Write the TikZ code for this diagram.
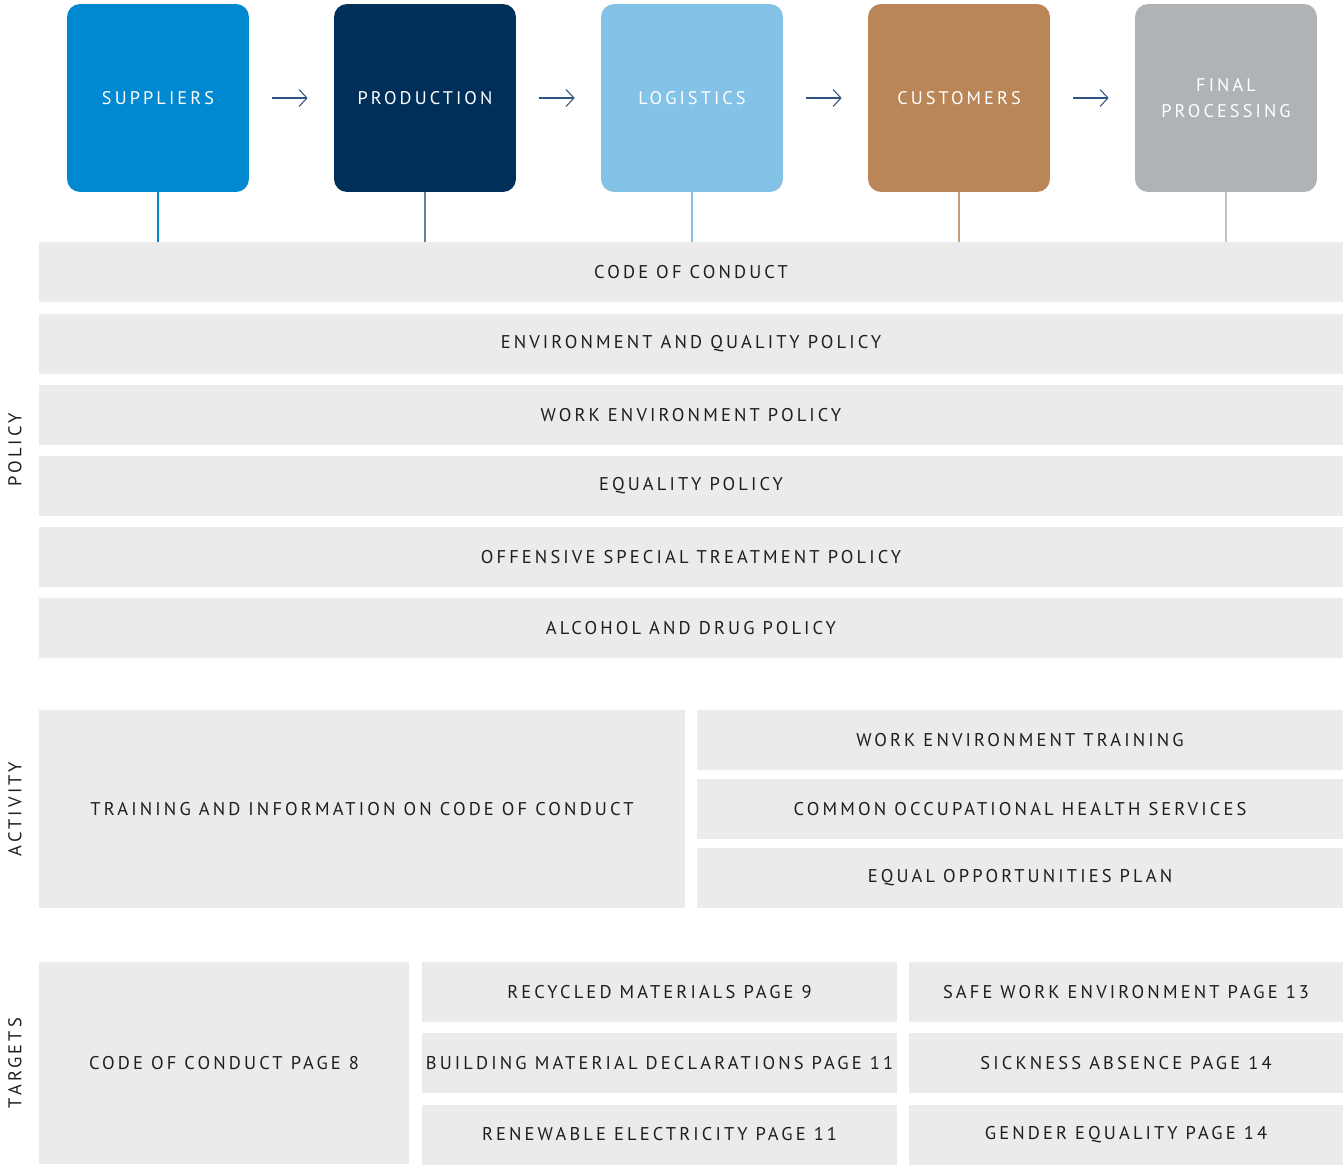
\documentclass[tikz,border=0pt]{standalone}
\usepackage{fontspec}
\usepackage{tikz}
\usetikzlibrary{positioning,arrows.meta}

\newfontfamily\spaced{PT Sans}[LetterSpace=17]

\definecolor{supBlue}{HTML}{0089D0}
\definecolor{prodNavy}{HTML}{00305A}
\definecolor{logSky}{HTML}{85C2E8}
\definecolor{custBrown}{HTML}{BA8657}
\definecolor{finGray}{HTML}{B0B3B6}
\definecolor{barGray}{HTML}{EBEBEB}
\definecolor{textDark}{HTML}{1E1E1E}
\definecolor{arrowBlue}{HTML}{2E5680}

\begin{document}
\begin{tikzpicture}[x=0.02cm,y=-0.02cm,
                stage/.style={rectangle,rounded corners=0.26cm,minimum width=3.64cm,minimum height=3.76cm,inner sep=0,text=white,align=center,font=\spaced\fontsize{10.4}{14.7}\selectfont},
                bar/.style={rectangle,fill=barGray,inner sep=0,minimum height=1.2cm,text=textDark,font=\spaced\fontsize{10.5}{12}\selectfont},
                side/.style={rotate=90,text=textDark,font=\spaced\fontsize{10.5}{12}\selectfont},
                flow/.style={draw=arrowBlue,line width=0.6pt,-{Straight Barb[length=4.5pt,width=9.6pt]},shorten <=0.46cm,shorten >=0.52cm},
            ]
                \useasboundingbox (0,0) rectangle (1343,1164);

                \node[stage,fill=supBlue] (sup) at (158,98) {SUPPLIERS};
                \node[stage,fill=prodNavy] (prod) at (425,98) {PRODUCTION};
                \node[stage,fill=logSky] (log) at (692,98) {LOGISTICS};
                \node[stage,fill=custBrown] (cust) at (959,98) {CUSTOMERS};
                \node[stage,fill=finGray] (fin) at (1226,98) {FINAL\\PROCESSING};
                \draw[flow] (sup) -- (prod);
                \draw[flow] (prod) -- (log);
                \draw[flow] (log) -- (cust);
                \draw[flow] (cust) -- (fin);

                \node[bar,minimum width=26.08cm] (pol1) at (691,272) {CODE OF CONDUCT};
                \node[bar,minimum width=26.08cm] (pol2) at (691,343.5) {ENVIRONMENT AND QUALITY POLICY};
                \node[bar,minimum width=26.08cm] (pol3) at (691,415) {WORK ENVIRONMENT POLICY};
                \node[bar,minimum width=26.08cm] (pol4) at (691,486) {EQUALITY POLICY};
                \node[bar,minimum width=26.08cm] (pol5) at (691,557) {OFFENSIVE SPECIAL TREATMENT POLICY};
                \node[bar,minimum width=26.08cm] (pol6) at (691,628) {ALCOHOL AND DRUG POLICY};

% each stage hangs on the code of conduct bar
                \draw[supBlue,line width=0.6pt] (sup) -- (sup |- pol1.north);
                \draw[prodNavy!60,line width=0.6pt] (prod) -- (prod |- pol1.north);
                \draw[logSky,line width=0.6pt] (log) -- (log |- pol1.north);
                \draw[custBrown!80,line width=0.6pt] (cust) -- (cust |- pol1.north);
                \draw[finGray!80,line width=0.6pt] (fin) -- (fin |- pol1.north);

                \node[bar,minimum width=12.92cm,minimum height=3.96cm] (act1) at (362,809) {TRAINING AND INFORMATION ON CODE OF CONDUCT};
                \node[bar,minimum width=12.92cm] (act2) at (1020,740) {WORK ENVIRONMENT TRAINING};
                \node[bar,minimum width=12.92cm] (act3) at (1020,809) {COMMON OCCUPATIONAL HEALTH SERVICES};
                \node[bar,minimum width=12.92cm] (act4) at (1020,878) {EQUAL OPPORTUNITIES PLAN};

                \node[bar,minimum width=7.4cm,minimum height=4.04cm] (tgt1) at (224,1063) {CODE OF CONDUCT PAGE 8};
                \node[bar,minimum width=9.5cm] (tgt2) at (659.5,992) {RECYCLED MATERIALS PAGE 9};
                \node[bar,minimum width=9.5cm] (tgt3) at (659.5,1063) {BUILDING MATERIAL DECLARATIONS PAGE 11};
                \node[bar,minimum width=9.5cm] (tgt4) at (659.5,1134.5) {RENEWABLE ELECTRICITY PAGE 11};
                \node[bar,minimum width=8.68cm] (tgt5) at (1126,992) {SAFE WORK ENVIRONMENT PAGE 13};
                \node[bar,minimum width=8.68cm] (tgt6) at (1126,1063) {SICKNESS ABSENCE PAGE 14};
                \node[bar,minimum width=8.68cm] (tgt7) at (1126,1134.5) {GENDER EQUALITY PAGE 14};

                \node[side] (lpol) at (15,450) {POLICY};
                \node[side] (lact) at (15,809) {ACTIVITY};
                \node[side] (ltgt) at (15,1063) {TARGETS};
            \end{tikzpicture}
\end{document}
